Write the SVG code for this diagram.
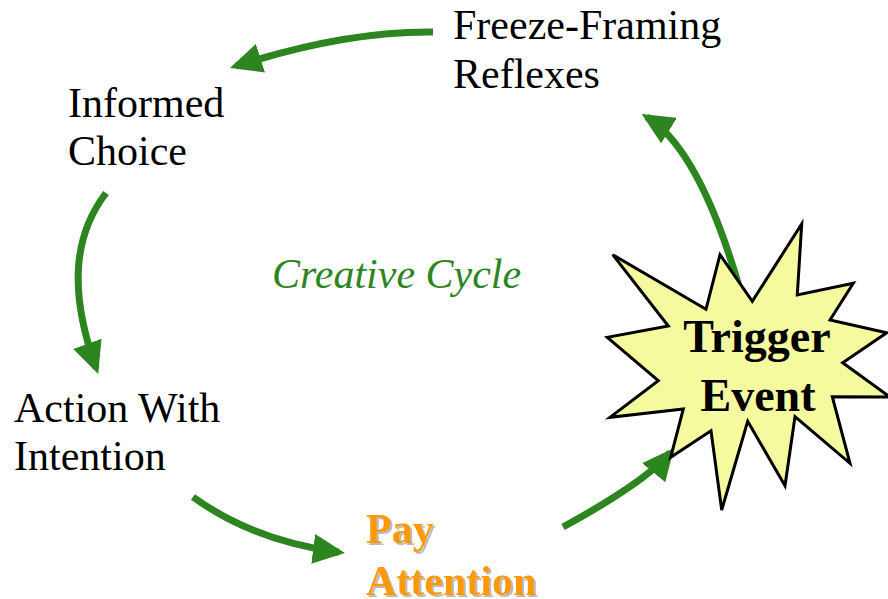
<svg xmlns="http://www.w3.org/2000/svg" width="888" height="599" viewBox="0 0 888 599">
  <style>
    .lbl { font-family: "Liberation Serif", "Times New Roman", serif; font-size: 42px; fill: #000; }
    .conn { fill: none; stroke: #2D851F; stroke-width: 7; }
    .bold { font-weight: bold; }
  </style>
  <defs>
    <marker id="ah" markerUnits="userSpaceOnUse" viewBox="0 0 32 30" markerWidth="32" markerHeight="30" refX="26" refY="15" orient="auto">
      <path d="M0,0 L32,15 L0,30 z" fill="#2D851F"/>
    </marker>
    <filter id="shadow" x="-10%" y="-10%" width="130%" height="130%">
      <feDropShadow dx="2" dy="2" stdDeviation="0.6" flood-color="#bbbbbb" flood-opacity="1"/>
    </filter>
  </defs>
  <rect width="888" height="599" fill="#ffffff"/>

  <g id="connectors">
    <path class="conn" d="M433,32 Q345,31 235.7,66.2" marker-end="url(#ah)"/>
    <path class="conn" d="M106,193 C74,235 68,290 96.2,368.3" marker-end="url(#ah)"/>
    <path class="conn" d="M193,497 Q254.5,541.3 339,552.2" marker-end="url(#ah)"/>
    <path class="conn" d="M563,527 Q646.3,481.6 670.2,452.6" marker-end="url(#ah)"/>
    <path class="conn" d="M741,295 L738,283 Q698.2,148.5 646.8,117.1" marker-end="url(#ah)"/>
  </g>

  <g id="freeze-framing">
    <text class="lbl" x="453" y="39">Freeze-Framing</text>
    <text class="lbl" x="453" y="88">Reflexes</text>
  </g>
  <g id="informed-choice">
    <text class="lbl" x="68" y="117">Informed</text>
    <text class="lbl" x="68" y="165">Choice</text>
  </g>
  <g id="action-with-intention">
    <text class="lbl" x="14" y="422">Action With</text>
    <text class="lbl" x="14" y="470">Intention</text>
  </g>
  <g id="creative-cycle">
    <text class="lbl" x="272" y="288" style="font-style:italic; fill:#2D851F">Creative Cycle</text>
  </g>
  <g id="pay-attention" filter="url(#shadow)">
    <text class="lbl bold" x="366" y="543" style="fill:#FF9900">Pay</text>
    <text class="lbl bold" x="366" y="595" style="fill:#FF9900">Attention</text>
  </g>
  <g id="trigger-event">
    <polygon points="801.7,224 797.3,295 853.3,283.3 830,320 886.7,332.7 842.7,362.7 890,397 832.3,396.7 850,463.3 795,416.7 785,485.7 747.7,421.3 721.7,510 711,430.7 670.7,457.3 683.3,409 610,417.3 658.3,380.7 607.3,337.3 668.3,326 612.7,254.7 706,309.3 720,254.7 752.3,301.3" fill="#F6FA9E" stroke="#000" stroke-width="3" stroke-linejoin="miter"/>
    <text class="lbl bold" x="757" y="352" text-anchor="middle" style="font-size:46px">Trigger</text>
    <text class="lbl bold" x="758" y="411" text-anchor="middle" style="font-size:46px">Event</text>
  </g>
</svg>
